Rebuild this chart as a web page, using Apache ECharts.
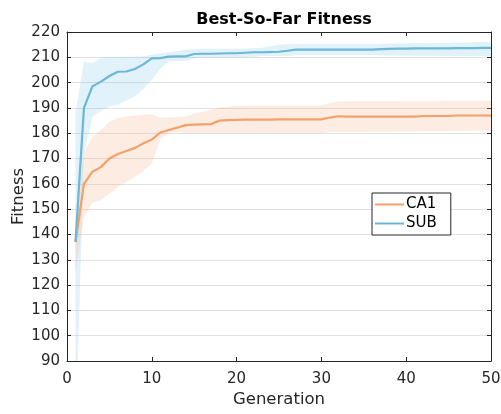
<!DOCTYPE html>
<html>
<head>
<meta charset="utf-8">
<script src="https://cdn.jsdelivr.net/npm/echarts@6/dist/echarts.min.js"></script>
<style>
html,body{margin:0;padding:0;background:#fff;}
#chart{width:501px;height:414px;}
</style>
</head>
<body>
<div id="chart"></div>
<script>
const generations = [1,2,3,4,5,6,7,8,9,10,11,12,13,14,15,16,17,18,19,20,21,22,23,24,25,26,27,28,29,30,31,32,33,34,35,36,37,38,39,40,41,42,43,44,45,46,47,48,49,50];

const subMean = [137,190,198.5,200.4,202.6,204.3,204.4,205.4,207.2,209.6,209.7,210.3,210.4,210.4,211.3,211.4,211.4,211.5,211.6,211.6,211.8,212.0,212.0,212.1,212.2,212.6,213.0,213.0,213.0,213.0,213.0,213.0,213.0,213.0,213.0,213.0,213.2,213.3,213.4,213.4,213.5,213.5,213.5,213.5,213.5,213.6,213.6,213.6,213.7,213.7];
const subUpper = [188,208.4,207.8,209.7,210.0,210.1,210.2,210.3,210.3,211.0,211.5,212.0,212.5,213.0,213.2,213.4,213.4,213.4,213.4,213.4,213.5,213.6,213.8,214.4,215.0,215.2,215.3,215.3,215.3,215.3,215.3,215.3,215.3,215.3,215.3,215.3,215.3,215.5,215.5,215.6,215.6,215.7,215.7,215.8,215.8,215.9,215.9,216,216,216];
const subLower = [60,172,186.5,189,190.5,191.2,193,194.5,197.5,201,205.5,208.4,208.5,208.5,209.5,210,210,210,210,210,210,210,210.5,210.5,210.5,210.5,210.8,210.8,210.8,210.8,210.8,210.8,210.8,210.8,210.8,210.8,210.7,210.7,210.7,210.6,210.6,210.6,210.6,210.5,210.5,210.5,210.5,210.5,210.5,210.5];

const caMean = [137,160,164.8,166.6,170,171.8,173,174.2,176,177.5,180.3,181.3,182.2,183.2,183.4,183.5,183.6,185.0,185.2,185.3,185.4,185.4,185.4,185.4,185.5,185.5,185.5,185.5,185.5,185.5,186.2,186.7,186.6,186.6,186.6,186.6,186.6,186.6,186.6,186.6,186.6,186.8,186.8,186.8,186.8,187.0,187.0,187.0,187.0,187.0];
const caUpper = [142,172.5,178.5,181.3,184.5,186,186.6,187,187.3,187.5,186.2,186.2,186.4,186.6,187.8,188.5,189.3,190.2,190.6,190.8,191,191,191,191,191,191,191,191,191,191,192,192.5,192.6,192.6,192.6,192.6,192.6,192.6,192.6,192.7,192.7,192.7,192.7,192.7,192.8,192.8,192.8,192.8,192.8,192.8];
const caLower = [125,147,152.5,153.6,156,158.9,160.8,162.8,165,168,177.5,180,180.5,180,180,180,180,180,180,180,180,180,180,180,180,180,180,180,180,180,180.5,180.5,180.5,180.5,180.5,180.6,180.6,180.6,180.7,180.7,180.7,180.8,180.8,180.8,180.9,180.9,180.9,181,181,181];

const yTicks = [90,100,110,120,130,140,150,160,170,180,190,200,210,220];
const xTicks = [0,10,20,30,40,50];

const axisColor = '#262626';
const font = 'DejaVu Sans';

function pairs(ys){ return generations.map((g,i)=>[g, ys[i]]); }

function bandRenderer(upper, lower, fill){
  return function(params, api){
    if (params.dataIndex !== 0) return null;
    const pts = [];
    for (let i = 0; i < generations.length; i++) pts.push(api.coord([generations[i], upper[i]]));
    for (let i = generations.length - 1; i >= 0; i--) pts.push(api.coord([generations[i], lower[i]]));
    const cs = params.coordSys;
    return {
      type:'polygon',
      shape:{points:pts},
      style:{fill:fill, stroke:null},
      clipPath:{type:'rect', shape:{x:cs.x, y:cs.y, width:cs.width, height:cs.height}},
      silent:true
    };
  };
}

const chart = echarts.init(document.getElementById('chart'), null, {renderer:'canvas'});

const xBase = {type:'value', min:xTicks[0], max:xTicks[xTicks.length-1], interval:10};
const yBase = {type:'value', min:yTicks[0], max:yTicks[yTicks.length-1], interval:10};

chart.setOption({
  animation:false,
  backgroundColor:'#ffffff',
  title:{
    text:'Best-So-Far Fitness',
    left:279, top:7, textAlign:'center',
    textStyle:{fontFamily:font, fontWeight:'bold', fontSize:16, color:'#000'}
  },
  grid:{left:67, right:10, top:32, bottom:53, containLabel:false, outerBoundsMode:'none'},
  legend:{
    data:['CA1','SUB'],
    orient:'vertical',
    left:372, top:193,
    padding:[4,14,4,3],
    itemGap:4,
    itemWidth:29, itemHeight:2,
    icon:'rect',
    backgroundColor:'#fff',
    borderColor:axisColor, borderWidth:1, borderRadius:0,
    textStyle:{fontFamily:font, fontSize:15, color:'#000', padding:[0,0,0,-3]}
  },
  xAxis:[
    Object.assign({}, xBase, {
      position:'bottom',
      name:'Generation', nameLocation:'middle', nameGap:30, nameMoveOverlap:false,
      nameTextStyle:{fontFamily:font, fontSize:16.5, color:axisColor},
      axisLine:{show:true, onZero:false, lineStyle:{color:axisColor, width:1}},
      axisTick:{show:true, inside:true, length:4, lineStyle:{color:axisColor}},
      axisLabel:{fontFamily:font, fontSize:15, color:axisColor, margin:11},
      splitLine:{show:false}
    }),
    Object.assign({}, xBase, {
      position:'top',
      axisLine:{show:true, onZero:false, lineStyle:{color:axisColor, width:1}},
      axisTick:{show:true, inside:true, length:4, lineStyle:{color:axisColor}},
      axisLabel:{show:false},
      splitLine:{show:false}
    })
  ],
  yAxis:[
    Object.assign({}, yBase, {
      position:'left',
      name:'Fitness', nameLocation:'middle', nameGap:40, nameMoveOverlap:false,
      nameTextStyle:{fontFamily:font, fontSize:16.5, color:axisColor},
      axisLine:{show:true, onZero:false, lineStyle:{color:axisColor, width:1}},
      axisTick:{show:true, inside:true, length:4, lineStyle:{color:axisColor}},
      axisLabel:{fontFamily:font, fontSize:15, color:axisColor, margin:7},
      splitLine:{show:true, lineStyle:{color:'#e1e1e1', width:1}}
    }),
    Object.assign({}, yBase, {
      position:'right',
      axisLine:{show:true, onZero:false, lineStyle:{color:axisColor, width:1}},
      axisTick:{show:true, inside:true, length:4, lineStyle:{color:axisColor}},
      axisLabel:{show:false},
      splitLine:{show:false}
    })
  ],
  series:[
    {name:'subBand', type:'custom', data:[[generations[0], subMean[0]]], silent:true, z:1,
     renderItem:bandRenderer(subUpper, subLower, 'rgba(120,195,230,0.22)')},
    {name:'caBand', type:'custom', data:[[generations[0], caMean[0]]], silent:true, z:2,
     renderItem:bandRenderer(caUpper, caLower, 'rgba(248,180,140,0.25)')},
    {name:'CA1', type:'line', data:pairs(caMean), symbol:'none', color:'#F3A06B',
     lineStyle:{width:2.2, color:'#F3A06B'}, z:5},
    {name:'SUB', type:'line', data:pairs(subMean), symbol:'none', color:'#6CB6D7',
     lineStyle:{width:2.2, color:'#6CB6D7'}, z:6}
  ]
});
</script>
</body>
</html>
